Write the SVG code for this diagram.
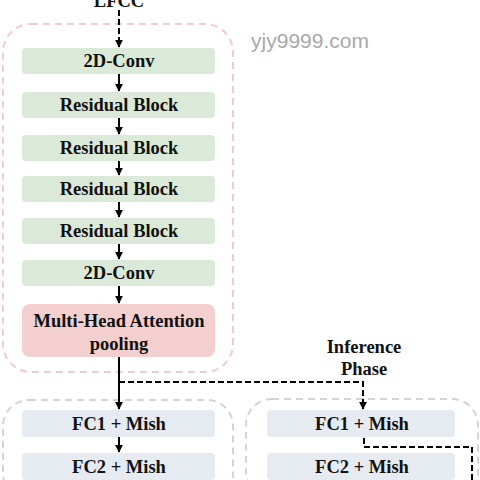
<svg xmlns="http://www.w3.org/2000/svg" width="480" height="480" viewBox="0 0 480 480">
<defs>
<marker id="ah" viewBox="0 0 10 10" refX="9" refY="5" markerWidth="4" markerHeight="4.5" orient="auto" markerUnits="strokeWidth">
<path d="M0,0 L10,5 L0,10 z" fill="#000"/>
</marker>
<style>
.lbl{font-family:"Liberation Serif","Times New Roman",serif;font-weight:bold;font-size:18.5px;fill:#111;text-anchor:middle}
.g{fill:#dbead8}
.p{fill:#f4cfcf}
.b{fill:#e6eaf1}
.pc{fill:none;stroke:#f1cccc;stroke-width:2;stroke-dasharray:7,5}
.gc{fill:none;stroke:#d4d4d4;stroke-width:2;stroke-dasharray:7,5}
.s{fill:none;stroke:#000;stroke-width:2;marker-end:url(#ah)}
.d{fill:none;stroke:#000;stroke-width:2;stroke-dasharray:6,3}
.da{fill:none;stroke:#000;stroke-width:2;stroke-dasharray:6,3;marker-end:url(#ah)}
</style>
</defs>
<rect width="480" height="480" fill="#fff"/>
<text x="310" y="48" style="font-family:'Liberation Sans',Arial,sans-serif;font-size:21px;fill:#a9a9a9;text-anchor:middle">yjy9999.com</text>
<g id="containers">
<rect class="pc" x="3" y="24" width="230" height="348" rx="28"/>
<rect class="gc" x="3" y="400" width="230" height="100" rx="26"/>
<rect class="gc" x="246" y="399" width="232" height="100" rx="26"/>
</g>
<g id="connectors">
<path class="da" d="M119,10 V47"/>
<path class="s" d="M119,74 V91"/>
<path class="s" d="M119,118 V134"/>
<path class="s" d="M119,161 V175"/>
<path class="s" d="M119,202 V217"/>
<path class="s" d="M119,244 V259"/>
<path class="s" d="M119,286 V303"/>
<path class="s" d="M119,357 V409"/>
<path class="da" d="M119,382 H363 V409"/>
<path class="s" d="M119,437 V452"/>
<path class="s" d="M119,480 V492"/>
<path class="d" d="M364,438 V447 H472 V480"/>
</g>
<g id="lfcc"><text class="lbl" x="119" y="7">LFCC</text></g>
<g id="conv1"><rect class="g" x="22" y="48" width="193" height="26" rx="4"/><text class="lbl" x="119" y="67">2D-Conv</text></g>
<g id="res1"><rect class="g" x="22" y="92" width="193" height="26" rx="4"/><text class="lbl" x="119" y="111">Residual Block</text></g>
<g id="res2"><rect class="g" x="22" y="135" width="193" height="26" rx="4"/><text class="lbl" x="119" y="154">Residual Block</text></g>
<g id="res3"><rect class="g" x="22" y="176" width="193" height="26" rx="4"/><text class="lbl" x="119" y="195">Residual Block</text></g>
<g id="res4"><rect class="g" x="22" y="218" width="193" height="26" rx="4"/><text class="lbl" x="119" y="237">Residual Block</text></g>
<g id="conv2"><rect class="g" x="22" y="260" width="193" height="26" rx="4"/><text class="lbl" x="119" y="279">2D-Conv</text></g>
<g id="mha"><rect class="p" x="22" y="304" width="193" height="53" rx="8"/><text class="lbl" x="119" y="327">Multi-Head Attention</text><text class="lbl" x="119" y="350">pooling</text></g>
<g id="phase"><text class="lbl" x="364" y="353">Inference</text><text class="lbl" x="364" y="375">Phase</text></g>
<g id="fc1a"><rect class="b" x="22" y="410" width="193" height="27" rx="4"/><text class="lbl" x="119" y="430">FC1 + Mish</text></g>
<g id="fc2a"><rect class="b" x="22" y="453" width="193" height="27" rx="4"/><text class="lbl" x="119" y="473">FC2 + Mish</text></g>
<g id="fc1b"><rect class="b" x="267" y="410" width="188" height="27" rx="4"/><text class="lbl" x="362" y="430">FC1 + Mish</text></g>
<g id="fc2b"><rect class="b" x="267" y="453" width="188" height="27" rx="4"/><text class="lbl" x="362" y="473">FC2 + Mish</text></g>
</svg>
